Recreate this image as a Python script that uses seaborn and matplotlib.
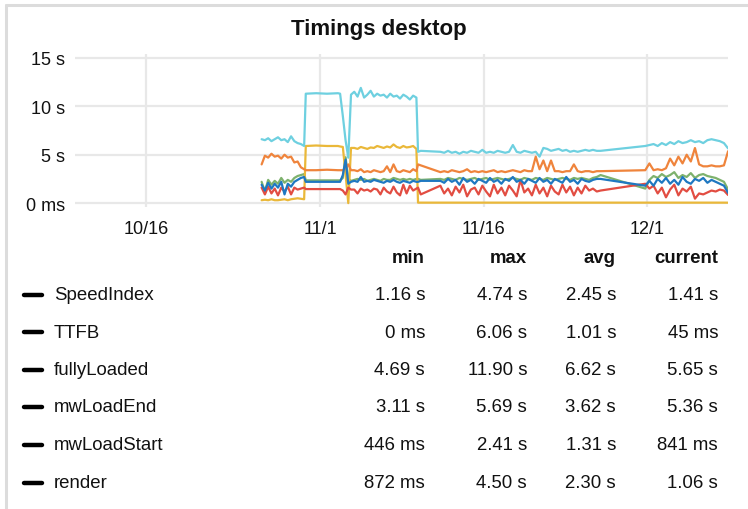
import matplotlib
matplotlib.use('Agg')
import matplotlib.pyplot as plt
import matplotlib.dates as mdates
from matplotlib.lines import Line2D
from matplotlib.ticker import FuncFormatter
import seaborn as sns
import pandas as pd

# sample times, in days after the first sample (2018-10-26 15:00)
day_offsets = [
    0.0, 0.3, 0.6, 0.9, 1.2, 1.5, 1.8, 2.1, 2.4, 2.7, 3.0, 3.3, 3.6, 3.9,
    4.05, 5.0, 6.0, 7.0, 7.2,
    7.45, 7.7, 7.95, 8.2,
    8.5, 8.8, 9.1, 9.4, 9.7, 10.0, 10.3, 10.6, 10.9, 11.2,
    11.5, 11.8, 12.1, 12.4, 12.7, 13.0, 13.3, 13.6, 13.9, 14.2,
    14.35, 14.6,
    16.4, 16.75, 17.1, 17.45, 17.8, 18.15, 18.5, 18.85, 19.2, 19.55,
    19.9, 20.25, 20.6, 20.95, 21.3, 21.65, 22.0, 22.35, 22.7, 23.05,
    23.4, 23.75, 24.1, 24.45, 24.8, 25.15, 25.5, 25.85, 26.2, 26.55,
    26.9, 27.25, 27.6, 27.95, 28.3, 28.65, 29.0, 29.35, 29.7, 30.05,
    30.4, 30.75, 31.1,
    35.2, 35.58, 35.96, 36.34, 36.72, 37.1, 37.48, 37.86, 38.24, 38.62,
    39.0, 39.38, 39.76, 40.14, 40.52, 40.9, 41.28, 41.66, 42.04, 42.42, 42.8,
]

speed_index = [
    2.2, 1.2, 2.4, 1.9, 2.3, 2.0, 2.6, 2.1, 2.4, 2.2, 2.6, 2.8, 2.9, 3.0,
    2.35, 2.35, 2.35, 2.35, 2.35,
    2.6, 4.74, 2.5, 2.3,
    2.4, 2.5, 2.4, 2.5, 2.3, 2.4, 2.5, 2.4, 2.3, 2.5,
    2.4, 2.4, 2.6, 2.5, 2.4, 2.5, 2.4, 2.5, 2.4, 2.5,
    2.5, 2.4,
    2.5, 2.4, 2.6, 2.5, 2.4, 2.6, 2.5, 2.4, 2.5, 2.6,
    2.4, 2.5, 2.6, 2.4, 2.5, 2.6, 2.5, 2.4, 2.5, 2.6,
    2.5, 2.4, 2.6, 2.5, 2.4, 2.6, 2.5, 2.4, 2.6, 2.5,
    2.4, 2.5, 2.6, 2.5, 2.4, 2.6, 2.5, 2.6, 2.5, 2.4,
    2.6, 2.7, 2.9,
    1.5, 2.4, 2.8, 2.6, 3.0, 2.7, 2.9, 3.2, 2.6, 2.9,
    2.7, 3.1, 2.6, 2.9, 3.0, 2.8, 2.7, 2.6, 2.4, 2.2, 1.41,
]

ttfb = [
    0.3, 0.35, 0.3, 0.4, 0.3, 0.3, 0.35, 0.4, 0.3, 0.4, 0.45, 0.5, 0.45, 0.4,
    5.9, 5.95, 5.9, 5.9, 5.85,
    5.8, 3.0, 0.0, 5.7,
    5.7, 5.6, 5.8, 5.7, 5.6, 5.75, 5.7, 5.9, 5.8, 5.7,
    5.85, 5.75, 6.06, 5.8, 5.7, 5.9, 5.75, 5.8, 5.9, 5.6,
    0.05, 0.05,
    0.05, 0.05, 0.05, 0.05, 0.05, 0.05, 0.05, 0.05, 0.05, 0.05,
    0.05, 0.05, 0.05, 0.05, 0.05, 0.05, 0.05, 0.05, 0.05, 0.05,
    0.05, 0.05, 0.05, 0.05, 0.05, 0.05, 0.05, 0.05, 0.05, 0.05,
    0.05, 0.05, 0.05, 0.05, 0.05, 0.05, 0.05, 0.05, 0.05, 0.05,
    0.05, 0.05, 0.05,
    0.05, 0.05, 0.05, 0.05, 0.05, 0.05, 0.05, 0.05, 0.05, 0.05,
    0.05, 0.05, 0.05, 0.05, 0.05, 0.05, 0.05, 0.05, 0.05, 0.05, 0.045,
]

fully_loaded = [
    6.6, 6.5, 6.7, 6.4, 6.6, 6.8, 6.5, 6.6, 6.3, 6.9, 6.4, 6.2, 6.1, 5.9,
    11.3, 11.35, 11.3, 11.35, 11.3,
    9.0, 6.5, 4.69, 11.2,
    11.5, 11.0, 11.9, 10.9, 11.2, 11.6, 11.0, 11.3, 11.1, 11.2,
    10.9, 11.3, 11.0, 11.1, 10.8, 11.2, 11.0, 10.7, 11.1, 10.9,
    5.3, 5.4,
    5.3, 5.2, 5.4, 5.2, 5.3, 5.1, 5.3, 5.2, 5.4, 5.3,
    5.2, 5.5, 5.2, 5.3, 5.2, 5.4, 5.3, 5.2, 5.3, 6.0,
    5.3, 5.2, 5.4, 5.3, 5.2, 5.3, 4.8, 5.7, 5.6, 5.4,
    5.5, 5.6, 5.4, 5.5, 5.3, 5.4, 5.3, 5.4, 5.5, 5.4,
    5.5, 5.4, 5.4,
    5.9, 6.0, 6.1, 5.9, 6.2, 6.0, 6.3, 6.1, 6.4, 6.2,
    6.3, 6.5, 6.3, 6.4, 6.2, 6.5, 6.6, 6.5, 6.4, 6.2, 5.65,
]

mw_load_end = [
    4.0, 4.9, 4.7, 5.1, 4.8, 4.9, 4.6, 5.0, 4.7, 4.8, 4.2, 4.3, 3.7, 3.5,
    3.4, 3.4, 3.45, 3.4, 3.4,
    3.4, 3.6, 4.0, 3.4,
    3.4, 3.3, 3.5, 3.2, 3.3, 3.2, 3.4, 3.3, 3.2, 3.3,
    3.8, 3.2, 4.0, 3.3, 3.2, 3.4, 3.3, 3.2, 3.5, 3.3,
    4.0, 3.9,
    3.2, 3.3, 3.2, 3.4, 3.3, 3.2, 3.3, 3.5, 3.2, 3.3,
    3.2, 3.3, 3.2, 3.3, 3.4, 3.2, 3.3, 3.2, 3.3, 3.4,
    3.3, 3.2, 3.4, 3.3, 3.3, 4.8, 3.5, 4.4, 3.3, 4.4,
    3.3, 3.3, 3.2, 3.3, 3.3, 4.0, 3.3, 3.2, 3.3, 3.3,
    3.2, 3.3, 3.3,
    3.4, 4.1, 3.4, 3.5, 3.4, 3.6, 4.6, 3.9, 4.8, 4.1,
    5.0, 4.3, 5.69, 4.0, 3.8, 3.8, 3.9, 3.8, 3.8, 3.9, 5.36,
]

mw_load_start = [
    1.6, 0.9, 1.7, 1.0, 1.5, 0.8, 1.6, 1.2, 1.7, 0.9, 1.6, 1.4, 1.5, 1.6,
    1.45, 1.45, 1.45, 1.45, 1.45,
    1.3, 0.9, 1.6, 1.4,
    1.4, 1.0, 1.5, 1.3, 1.4, 1.2, 1.5, 1.4, 0.9, 1.6,
    1.2, 1.0, 1.7, 1.1, 0.8, 1.9, 1.0, 1.8, 1.3, 1.5,
    1.6, 0.9,
    1.8, 1.0, 1.5, 0.8, 1.7, 1.1, 1.9, 0.7, 1.4, 1.6,
    0.9, 1.8, 1.2, 0.7, 1.9, 1.0, 1.6, 0.8, 1.8, 1.3,
    0.7, 2.4, 1.1, 1.5, 0.8, 1.9, 1.0, 1.6, 0.7, 1.8,
    1.2, 0.9, 1.9, 1.1, 1.7, 0.8, 1.6, 1.0, 1.8, 1.3,
    1.5, 1.2, 1.3,
    2.0, 1.5, 1.8, 1.0, 1.6, 0.6, 1.4, 1.9, 0.8, 1.5,
    1.2, 1.7, 0.46, 1.0, 0.9, 1.1, 1.3, 1.2, 1.4, 1.3, 0.84,
]

render = [
    1.9, 1.3, 2.1, 1.5, 2.0, 1.6, 2.2, 0.9, 2.0, 1.7, 2.2, 2.4, 2.6, 2.7,
    2.2, 2.2, 2.2, 2.2, 2.2,
    2.9, 4.5, 2.0, 2.2,
    2.3, 2.2, 2.7, 2.2, 2.3, 2.2, 2.4, 2.3, 2.2, 2.1,
    2.3, 2.2, 2.4, 2.2, 2.1, 2.3, 2.2, 2.1, 2.3, 2.2,
    2.2, 2.3,
    2.3, 2.1, 2.5, 2.2, 2.4, 1.9, 2.6, 2.2, 2.4, 2.0,
    2.5, 2.3, 2.1, 2.6, 2.2, 2.4, 2.0, 2.5, 2.3, 2.7,
    2.2, 2.4, 2.0, 2.5, 2.3, 2.1, 2.6, 2.2, 2.4, 2.0,
    2.5, 2.3, 2.1, 2.7, 2.2, 2.4, 2.0, 2.5, 2.3, 2.2,
    2.4, 2.5, 2.5,
    1.8, 2.3, 1.8, 2.5, 2.1, 2.6, 2.0, 2.4, 1.9, 2.7,
    2.2, 2.0, 2.5, 2.3, 2.6, 2.1, 2.4, 2.2, 2.0, 1.8, 1.06,
]

metric_names = ['SpeedIndex', 'TTFB', 'fullyLoaded', 'mwLoadEnd', 'mwLoadStart', 'render']
metric_colors = ['#7EB26D', '#EAB839', '#6ED0E0', '#EF843C', '#E24D42', '#1F78C1']
stat_min = ['1.16 s', '0 ms', '4.69 s', '3.11 s', '446 ms', '872 ms']
stat_max = ['4.74 s', '6.06 s', '11.90 s', '5.69 s', '2.41 s', '4.50 s']
stat_avg = ['2.45 s', '1.01 s', '6.62 s', '3.62 s', '1.31 s', '2.30 s']
stat_current = ['1.41 s', '45 ms', '5.65 s', '5.36 s', '841 ms', '1.06 s']
x_ticks = ['2018-10-16', '2018-11-01', '2018-11-16', '2018-12-01']
x_tick_labels = ['10/16', '11/1', '11/16', '12/1']
y_ticks = [0, 5, 10, 15]

sns.set_style('white')
plt.rcParams['font.family'] = ['Liberation Sans', 'DejaVu Sans']

start = pd.Timestamp('2018-10-26 15:00')
times = start + pd.to_timedelta(day_offsets, unit='D')
series = [speed_index, ttfb, fully_loaded, mw_load_end, mw_load_start, render]
frames = []
for name, vals in zip(metric_names, series):
    assert len(vals) == len(times), name
    frames.append(pd.DataFrame({'time': times, 'value': vals, 'metric': name}))
df = pd.concat(frames, ignore_index=True)

W, H = 748, 510
fig = plt.figure(figsize=(W / 100, H / 100), dpi=100)
ax = fig.add_axes([75 / W, 1 - 208 / H, 653 / W, 153 / H])

sns.lineplot(data=df, x='time', y='value', hue='metric', hue_order=metric_names,
             palette=metric_colors, estimator=None, sort=False, linewidth=1.6,
             legend=False, ax=ax)

ax.set_ylim(-0.4, 15.4)
ax.set_yticks(y_ticks)
ax.yaxis.set_major_formatter(FuncFormatter(lambda v, p: '0 ms' if v == 0 else f'{v:g} s'))
ax.set_xlim(pd.Timestamp('2018-10-09 12:00'), pd.Timestamp('2018-12-08 10:00'))
ax.set_xticks(mdates.date2num([pd.Timestamp(t) for t in x_ticks]))
ax.set_xticklabels(x_tick_labels)
ax.set_xlabel('')
ax.set_ylabel('')
ax.grid(True, color='#e8e8e8', linewidth=1.6)
ax.set_axisbelow(True)
sns.despine(ax=ax, left=True, bottom=True)
ax.tick_params(axis='both', length=0, labelsize=13, colors='#111111')
ax.tick_params(axis='y', pad=7)
ax.tick_params(axis='x', pad=9)

fig.text(379 / W, 1 - 29 / H, 'Timings desktop', ha='center', va='center',
         fontsize=16, fontweight='bold', color='#111111')

# legend table
col_right = [425, 527, 616, 718]
headers = ['min', 'max', 'avg', 'current']
for xr, h in zip(col_right, headers):
    fig.text(xr / W, 1 - 259 / H, h, ha='right', va='center', fontsize=13.4,
             fontweight='bold', color='#111111')

row_y = [296, 333, 371, 408, 446, 484]
for i, name in enumerate(metric_names):
    y = 1 - row_y[i] / H
    fig.add_artist(Line2D([24 / W, 42 / W], [y, y], transform=fig.transFigure,
                          color='black', linewidth=3.2, solid_capstyle='round'))
    fig.text(54 / W, y, name, ha='left', va='center', fontsize=13.4, color='#111111')
    for xr, col in zip(col_right, [stat_min, stat_max, stat_avg, stat_current]):
        fig.text(xr / W, y, col[i], ha='right', va='center', fontsize=13.4, color='#111111')

# panel border, top and left edges
fig.add_artist(Line2D([5.5 / W, 1], [1 - 5.5 / H, 1 - 5.5 / H], transform=fig.transFigure,
                      color='#dcdcdc', linewidth=2.2))
fig.add_artist(Line2D([5.5 / W, 5.5 / W], [0, 1 - 5.5 / H], transform=fig.transFigure,
                      color='#dcdcdc', linewidth=2.2))

fig.savefig('out.png', dpi=100)
